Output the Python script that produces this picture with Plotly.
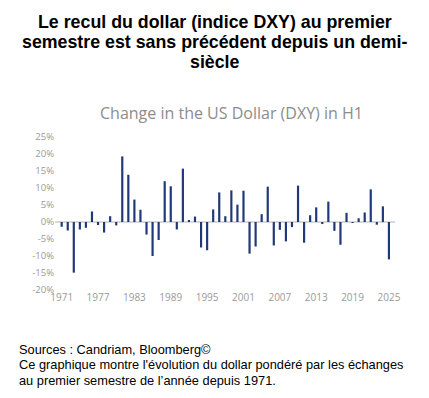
import plotly.graph_objects as go

years = list(range(1971, 2026))
changes = [
    -1.4, -2.5, -14.9, -2.2, -1.7, 3.1, -0.9, -3.1, 1.7, -1.0,
    19.3, 13.9, 6.6, 3.6, -3.7, -10.0, -5.3, 12.0, 10.5, -2.2,
    15.7, 0.5, 1.6, -7.5, -8.3, 3.7, 8.7, 1.7, 9.3, 5.1,
    9.2, -9.3, -7.2, 2.3, 10.4, -6.9, -2.3, -5.7, -1.5, 10.7,
    -6.1, 2.0, 4.3, -0.6, 6.0, -2.6, -6.7, 2.7, -0.2, 1.1,
    2.8, 9.6, -0.8, 4.6, -11.0,
]
x_ticks = [1971, 1977, 1983, 1989, 1995, 2001, 2007, 2013, 2019, 2025]
y_ticks = [-20, -15, -10, -5, 0, 5, 10, 15, 20, 25]
y_ticktext = [f"{v}%" for v in y_ticks]

title_lines = ["Le recul du dollar (indice DXY) au premier",
               "semestre est sans précédent depuis un demi-",
               "siècle"]
chart_title = "Change in the US Dollar (DXY) in H1"
footer_lines = ["Sources : Candriam, Bloomberg©",
                "Ce graphique montre l'évolution du dollar pondéré par les échanges",
                "au premier semestre de l’année depuis 1971."]

W, H = 429, 398
L, R, T, B = 55, 34, 137, 108
ph = H - T - B
pw = W - L - R

def py(y):
    return (H - B - y) / ph

def px(x):
    return (x - L) / pw

fig = go.Figure(go.Bar(
    x=years, y=changes, width=0.36,
    marker=dict(color="#1f3877", line=dict(width=0)),
))

annotations = []
for i, line in enumerate(title_lines):
    annotations.append(dict(
        text="<b>" + line + "</b>", x=px(214.5), y=py(22 + 20 * i),
        xref="paper", yref="paper", xanchor="center", yanchor="middle",
        showarrow=False, font=dict(family="Liberation Sans", size=17.8, color="black")))
annotations.append(dict(
    text=chart_title, x=px(231), y=py(113), xref="paper", yref="paper",
    xanchor="center", yanchor="middle", showarrow=False,
    font=dict(family="Open Sans", size=16, color="#8c8c8c")))
for i, line in enumerate(footer_lines):
    annotations.append(dict(
        text=line, x=px(17), y=py(349 + 15.5 * i), xref="paper", yref="paper",
        xanchor="left", yanchor="middle", showarrow=False,
        font=dict(family="Liberation Sans", size=12.8, color="black")))

fig.update_layout(
    width=W, height=H,
    margin=dict(l=L, r=R, t=T, b=B, autoexpand=False),
    paper_bgcolor="white", plot_bgcolor="white",
    showlegend=False,
    xaxis=dict(range=[1969.9, 2026.0], tickvals=x_ticks, showgrid=False,
               zeroline=False, showline=False, ticks="", automargin=False,
               tickfont=dict(family="Open Sans", size=10, color="#9a9a9a")),
    yaxis=dict(range=[-20, 25], tickvals=y_ticks, ticktext=y_ticktext,
               showgrid=False, automargin=False,
               zeroline=True, zerolinecolor="#d9d9d9", zerolinewidth=1.5,
               showline=False, ticks="",
               tickfont=dict(family="Open Sans", size=9.5, color="#9a9a9a")),
    annotations=annotations,
)

fig.write_html("out.html", config={"displayModeBar": False},
               post_script="document.body.style.margin='0';")
